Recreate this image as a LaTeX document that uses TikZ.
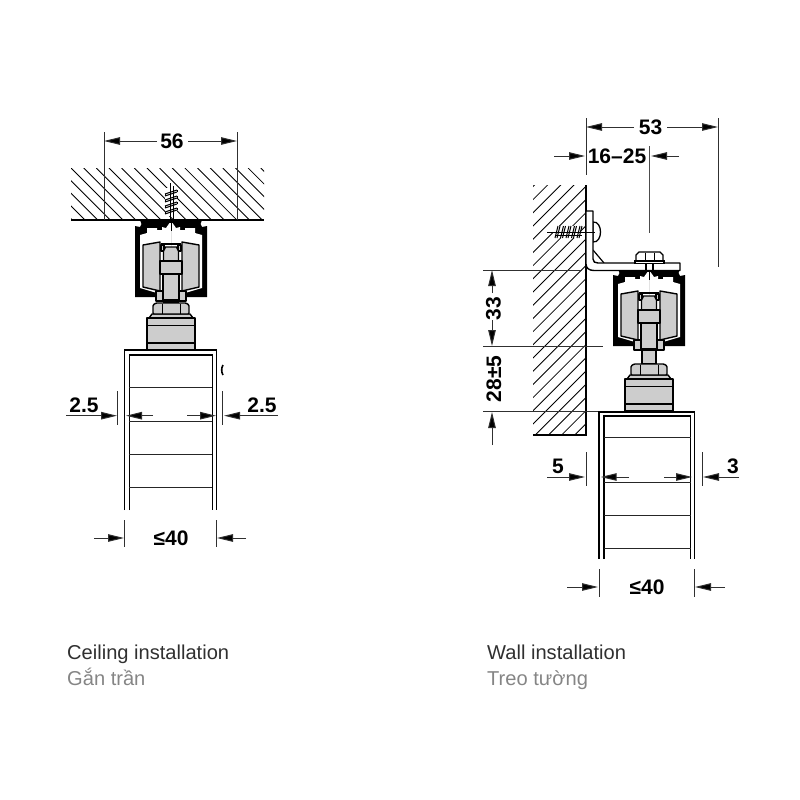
\documentclass[tikz,border=0pt]{standalone}
\usepackage{fontspec}
\setmainfont{Liberation Sans}
\usetikzlibrary{arrows.meta}
\definecolor{partgray}{HTML}{CDCDCD}
\definecolor{dimcol}{HTML}{303030}
\definecolor{capgray}{HTML}{858585}
\definecolor{capdark}{HTML}{303030}
\tikzset{
  dimline/.style={draw=dimcol,line width=1pt,-{Triangle[length=16pt,width=7.5pt,fill=black]}},
  extline/.style={draw=dimcol,line width=1pt},
  graylimit/.style={draw=black!70,line width=1pt},
  dimlabel/.style={font=\fontsize{21}{22}\selectfont\bfseries,inner sep=0pt,text=black},
  caption1/.style={font=\fontsize{20.1}{22}\selectfont,anchor=base west,inner sep=0pt,text=capdark},
  caption2/.style={font=\fontsize{20.1}{22}\selectfont,anchor=base west,inner sep=0pt,text=capgray},
  hatchline/.style={draw=black,line width=0.85pt},
  part/.style={fill=partgray,draw=black,line width=1.4pt,line join=round},
  doorouter/.style={draw=black,line width=1.8pt},
  doorinner/.style={draw=black,line width=1.2pt},
  doorrule/.style={draw=black!85,line width=1pt},
  thread/.style={draw=black,line width=1pt},
}
\newcommand{\carriagedraw}[3]{%
\begin{scope}[shift={(#1,#2)}]
  \foreach \sd in {-1,1}{
    \begin{scope}[xscale=\sd]
      \fill[black] (0.2,0) -- (-31,0) -- (-29.5,4) -- (-31,7) -- (-36,6) -- (-36,77) -- (0.2,77) -- cycle;
      \fill[white] (0.2,3) -- (-1.5,3) -- (-5,8) -- (-9,7) -- (-9,10) -- (-14,10) -- (-14,8) -- (-24,8) -- (-24,13) -- (-31,15) -- (-31,68) -- (-14,73) -- (0.2,73) -- cycle;
      \path[part] (-28,25) -- (-11,22) -- (-11,71) -- (-28,67) -- cycle;
      \path[part] (-15,71) rectangle (-8,81);
      \path[part] (-10,25) rectangle (-7,31);
    \end{scope}
  }
  \draw[black,line width=1.4pt] (-10,24) -- (10,24);
  \path[part] (-7.5,31) -- (-5.5,27) -- (5.5,27) -- (7.5,31) -- (7.5,41) -- (-7.5,41) -- cycle;
  \path[part] (-11,41) rectangle (11,54);
  \path[part,line width=1.8pt] (-8,54) rectangle (8,80);
  \path[part] (-7,81) rectangle (7,{81+#3});
  \draw[black,line width=1pt] (0,0) -- (0,11);
  \begin{scope}[shift={(0,{81+#3})}]
    \path[part] (-19,11) -- (19,11) -- (22,15) -- (-22,15) -- cycle;
    \path[part,rounded corners=1pt] (-18,11) -- (-18,2) -- (-15,0) -- (15,0) -- (18,2) -- (18,11) -- cycle;
    \draw[black,line width=0.9pt] (-9,1) -- (-9,11) (9,1) -- (9,11);
    \path[part] (-24,15) rectangle (24,47);
    \draw[black,line width=0.9pt] (-24,22) -- (24,22);
    \draw[black,line width=1.8pt] (-24,40) -- (24,40);
  \end{scope}
\end{scope}}
\newcommand{\doordraw}[8]{%
  % left outer, left inner, right inner, right outer, top outer, top inner, bottom, rule list
  \draw[doorouter] (#1,#7) -- (#1,#5) -- (#4,#5) -- (#4,#7);
  \draw[doorinner] (#2,#7) -- (#2,#6) -- (#3,#6) -- (#3,#7);
  \foreach \ry in {#8}{\draw[doorrule] (#2,\ry) -- (#3,\ry);}
}
\begin{document}
\begin{tikzpicture}[x=1pt,y=-1pt]
\useasboundingbox (0,0) rectangle (800,800);
% ---------- ceiling hatch
\begin{scope}
  \clip (71,168) rectangle (264,220);
  \foreach \k in {-4,...,16}{
    \draw[hatchline] ({71+12.65*\k},168) -- ({71+12.65*\k+60},228);
  }
\end{scope}
\draw[black,line width=1.6pt] (71,220) -- (264,220);
% ceiling screw
\fill[white] (165,188) rectangle (177,216);
\draw[thread] (170,183) -- (170,222);
\draw[thread] (173,186) -- (173,222);
\foreach \ty in {192,198,204,210}{
  \draw[thread] (165,\ty+2) -- (177,\ty-2) (165,\ty+4) -- (177,\ty);
  \draw[thread] (165,\ty+2) -- (165,\ty+4) (177,\ty-2) -- (177,\ty);
}
% ---------- ceiling assembly
\carriagedraw{171}{220}{2}
\doordraw{124.5}{129.3}{212.3}{216.5}{350}{355}{510}{387.7,421,454,487}
\draw[black,line width=1.6pt] (223,375) arc[start angle=150,end angle=210,radius=10];
% ceiling dimensions
\coordinate (c56a) at (104,132); \coordinate (c56b) at (104,220);
\coordinate (c56c) at (237,132); \coordinate (c56d) at (237,220);
\draw[extline] (c56a) -- (c56b);
\draw[extline] (c56c) -- (c56d);
\node[dimlabel] (l56) at (172,141) {56};
\coordinate (c56l) at (104,141); \coordinate (c56r) at (237,141);
\coordinate (c56t1) at (157,141); \coordinate (c56t2) at (188,141);
\draw[dimline] (c56t1) -- (c56l);
\draw[dimline] (c56t2) -- (c56r);
\coordinate (ca) at (117.7,391); \coordinate (cb) at (117.7,425);
\coordinate (cc) at (222.7,391); \coordinate (cd) at (222.7,425);
\draw[extline] (ca) -- (cb);
\draw[extline] (cc) -- (cd);
\node[dimlabel] (l25a) at (84,405.5) {2.5};
\node[dimlabel] (l25b) at (262,405.5) {2.5};
\coordinate (t1) at (66,415.7); \coordinate (h1) at (117,415.7);
\coordinate (t2) at (153,415.7); \coordinate (h2) at (126,415.7);
\coordinate (t3) at (187,415.7); \coordinate (h3) at (216,415.7);
\coordinate (t4) at (278,415.7); \coordinate (h4) at (224,415.7);
\draw[dimline] (t1) -- (h1);
\draw[dimline] (t2) -- (h2);
\draw[dimline] (t3) -- (h3);
\draw[dimline] (t4) -- (h4);
\coordinate (e1) at (124.5,520); \coordinate (e2) at (124.5,547);
\coordinate (e3) at (216.7,520); \coordinate (e4) at (216.7,547);
\draw[extline] (e1) -- (e2);
\draw[extline] (e3) -- (e4);
\node[dimlabel] (l40a) at (171,538) {≤40};
\coordinate (t5) at (94,538); \coordinate (h5) at (124,538);
\coordinate (t6) at (246,538); \coordinate (h6) at (217,538);
\draw[dimline] (t5) -- (h5);
\draw[dimline] (t6) -- (h6);
% ---------- wall hatch
\begin{scope}
  \clip (533,185) rectangle (586,435);
  \foreach \k in {-1,...,24}{
    \draw[hatchline] ({732.6+13.2*\k-175},175) -- ({732.6+13.2*\k-445},445);
  }
\end{scope}
\draw[black,line width=1.8pt] (586,185) -- (586,435) -- (533,435);
% wall dimension limits behind parts
\coordinate (w1a) at (483,270); \coordinate (w1b) at (582,270);
\coordinate (w2a) at (483,346.7); \coordinate (w2b) at (603,346.7);
\coordinate (w3a) at (483,411.7); \coordinate (w3b) at (599,411.7);
\draw[extline] (w1a) -- (w1b);
\draw[extline] (w2a) -- (w2b);
\draw[extline] (w3a) -- (w3b);
% wall assembly
\carriagedraw{649}{269}{14}
% bracket
\draw[black,line width=1.3pt,fill=white] (593,222) .. controls (603,221) and (603,243) .. (593,242) -- cycle;
\draw[black,line width=1.2pt] (593,250) -- (604,263);
\draw[black,line width=1.4pt,fill=white,line join=round] (586,211) -- (593,211) -- (593,259) .. controls (593,262) and (595,263) .. (598,263) -- (680,263) -- (680,270.5) -- (594,270.5) .. controls (589,270.5) and (586,268) .. (586,264) -- cycle;
\draw[black,line width=1.3pt,fill=white,line join=round] (636,261) -- (636,255) -- (639,252) -- (660,252) -- (663,255) -- (663,261) -- cycle;
\draw[black,line width=0.9pt] (645,252.5) -- (645,261) (654,252.5) -- (654,261);
\draw[black,line width=1.3pt,fill=white] (635,261) rectangle (664,263.5);
\draw[black,line width=1.1pt] (646,263.5) -- (646,270.5) (653,263.5) -- (653,270.5);
% wall screw
\fill[white] (553,226) rectangle (580,238);
\draw[thread] (547,232) -- (595,232);
\draw[thread] (555,235) -- (582,235);
\foreach \tx in {555,560.5,566,571.5,577}{
  \draw[thread] (\tx,238) -- (\tx+3,226) (\tx+2,238) -- (\tx+5,226);
}
% wall door
\doordraw{599.2}{604}{690.5}{694.5}{411.7}{416}{559}{437,482.3,515.6,548.3}
% wall dimensions
\coordinate (x1) at (586,118); \coordinate (x2) at (586,175);
\coordinate (x3) at (718,118); \coordinate (x4) at (718,267);
\coordinate (x5) at (649,146); \coordinate (x6) at (649,233);
\draw[extline] (x1) -- (x2);
\draw[extline] (x3) -- (x4);
\draw[graylimit] (x5) -- (x6);
\node[dimlabel] (l53) at (650.5,127) {53};
\coordinate (t7) at (634,127); \coordinate (h7) at (586,127);
\coordinate (t8) at (667,127); \coordinate (h8) at (718,127);
\draw[dimline] (t7) -- (h7);
\draw[dimline] (t8) -- (h8);
\node[dimlabel] (l1625) at (617,156) {16–25};
\coordinate (t9) at (554,156); \coordinate (h9) at (585,156);
\coordinate (t10) at (679,156); \coordinate (h10) at (651,156);
\draw[dimline] (t9) -- (h9);
\draw[dimline] (t10) -- (h10);
\node[dimlabel,rotate=90] (l33) at (493.5,308.5) {33};
\node[dimlabel,rotate=90] (l285) at (494,379) {28±5};
\coordinate (t11) at (492,293); \coordinate (h11) at (492,270);
\coordinate (t12) at (492,320); \coordinate (h12) at (492,346);
\coordinate (t13) at (492,445); \coordinate (h13) at (492,412);
\draw[dimline] (t11) -- (h11);
\draw[dimline] (t12) -- (h12);
\draw[dimline] (t13) -- (h13);
\coordinate (y1) at (586,452); \coordinate (y2) at (586,486);
\coordinate (y3) at (702,452); \coordinate (y4) at (702,486);
\draw[extline] (y1) -- (y2);
\draw[extline] (y3) -- (y4);
\node[dimlabel] (l5) at (558,466) {5};
\node[dimlabel] (l3) at (733,466) {3};
\coordinate (t14) at (547,477); \coordinate (h14) at (585,477);
\coordinate (t15) at (629,477); \coordinate (h15) at (600.7,477);
\coordinate (t16) at (664,477); \coordinate (h16) at (692,477);
\coordinate (t17) at (739,477); \coordinate (h17) at (703,477);
\draw[dimline] (t14) -- (h14);
\draw[dimline] (t15) -- (h15);
\draw[dimline] (t16) -- (h16);
\draw[dimline] (t17) -- (h17);
\coordinate (z1) at (599,569); \coordinate (z2) at (599,597);
\coordinate (z3) at (694.5,569); \coordinate (z4) at (694.5,597);
\draw[extline] (z1) -- (z2);
\draw[extline] (z3) -- (z4);
\node[dimlabel] (l40b) at (647,587) {≤40};
\coordinate (t18) at (567,587); \coordinate (h18) at (598,587);
\coordinate (t19) at (725,587); \coordinate (h19) at (695,587);
\draw[dimline] (t18) -- (h18);
\draw[dimline] (t19) -- (h19);
% captions
\node[caption1] (cap1) at (67,659) {Ceiling installation};
\node[caption2] (cap2) at (67,685) {Gắn trần};
\node[caption1] (cap3) at (487,659) {Wall installation};
\node[caption2] (cap4) at (487,685) {Treo tường};
\end{tikzpicture}
\end{document}
